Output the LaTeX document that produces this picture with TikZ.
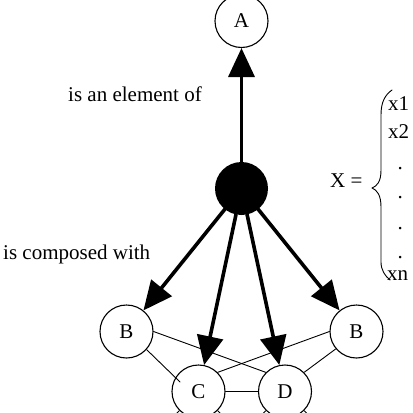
\documentclass[tikz,border=0pt]{standalone}
\usepackage{fontspec}
\setmainfont{Liberation Serif}
\usetikzlibrary{arrows.meta}

\tikzset{
  state/.style={circle,draw,minimum size=53pt,inner sep=0pt,line width=1.1pt},
  hub/.style={circle,fill=black,minimum size=53pt,inner sep=0pt},
  compose/.style={-{Triangle[length=29pt,width=26pt]},line width=3.6pt},
  link/.style={line width=0.9pt},
  lbl/.style={anchor=base west,inner sep=0pt}
}

\begin{document}
\begin{tikzpicture}[line cap=round,line join=round,x=1pt,y=-1pt,font=\fontsize{21pt}{25pt}\selectfont]
\useasboundingbox (0,0) rectangle (413,413);
% nodes
\node[state] (A) at (241.5,21) {A};
\node[hub] (X) at (241.5,188.5) {};
\node[state] (B1) at (126.5,331.5) {B};
\node[state] (B2) at (356.5,331.5) {B};
\node[state] (C) at (198.5,391.5) {C};
\node[state] (D) at (285,391.5) {D};
% arrows
\draw[compose] (X) -- (A);
\foreach \t in {B1,C,D,B2}
  \draw[compose] (X) -- (\t);
% thin links
\coordinate (cin) at (180,382);
\draw[link] (B1.east) -- (D.north west);
\draw[link] (B2.west) -- (C.north east);
\draw[link] (B1.-42) -- (cin);
\draw[link] (B2.220) -- (D.45);
\draw[link] (C) -- (D);
% links leaving the frame
\coordinate (c1) at (165,425);
\coordinate (c2) at (232,425);
\coordinate (d1) at (251.5,425);
\coordinate (d2) at (318.5,425);
\draw[link] (C) -- (c1);
\draw[link] (C) -- (c2);
\draw[link] (D) -- (d1);
\draw[link] (D) -- (d2);
% labels
\node[lbl] (elem) at (68,101) {is an element of};
\node[lbl] (comp) at (3,259) {is composed with};
\node[lbl] (set) at (330,187) {X =};
\node[lbl] (x1) at (388,110) {x1};
\node[lbl] (x2) at (388,138) {x2};
\foreach \y/\n in {169/1,198/2,229/3,258/4}
  \node[lbl] (dot\n) at (397.5,\y) {.};
\node[lbl] (xn) at (387,280) {xn};
% brace
\draw[link] (392,90) .. controls (385,95) and (381,102) .. (381,115) -- (381,170)
  .. controls (381,182) and (377,186) .. (372,188)
  .. controls (377,190) and (381,195) .. (381,207) -- (381,262)
  .. controls (381,270) and (385,276) .. (390,280);
\end{tikzpicture}
\end{document}
